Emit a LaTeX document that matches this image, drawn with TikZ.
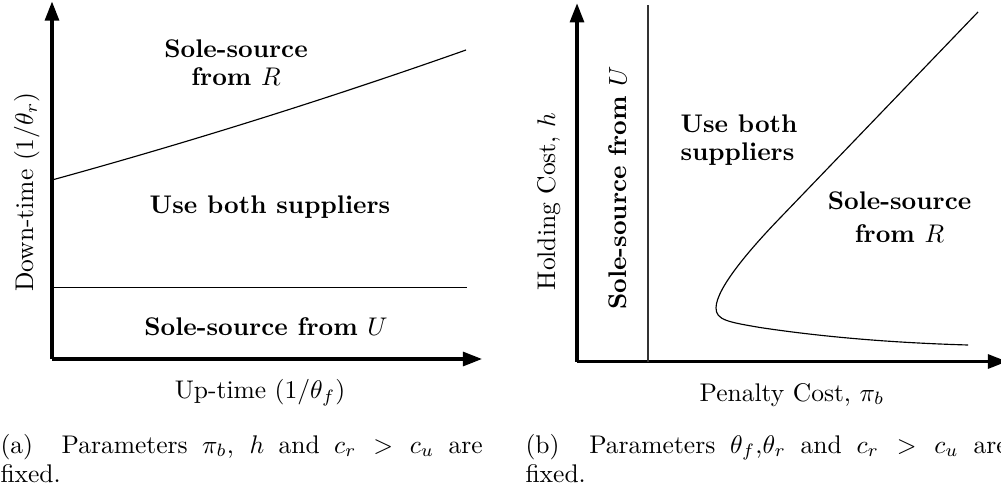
\documentclass[tikz,border=0pt]{standalone}
\usetikzlibrary{arrows.meta}

\tikzset{
  axis/.style={line width=1.2pt, -{Triangle[length=7.5pt,width=5.5pt]}},
  boundary/.style={line width=0.45pt},
  region/.style={inner sep=0pt, font=\bfseries},
  axislabel/.style={inner sep=0pt},
  captiontext/.style={inner sep=0pt, anchor=base west}
}

\begin{document}
\begin{tikzpicture}[x=0.392pt, y=-0.392pt]
  \useasboundingbox (0,0) rectangle (1001,487);

  % ---------- (a) down-time versus up-time ----------
  \coordinate (oA) at (52,359);
  \coordinate (yA) at (52,1.5);
  \coordinate (xA) at (482,359);
  \draw[axis] (oA) -- (yA);
  \draw[axis] (oA) -- (xA);

  \coordinate (rA0) at (52,180);
  \coordinate (rA1) at (466,50);
  \coordinate (uA0) at (52,287.5);
  \coordinate (uA1) at (467,287.5);
  \draw[boundary] (rA0) .. controls (190,142) and (328,98.7) .. (rA1);
  \draw[boundary] (uA0) -- (uA1);

  \node[region, align=center, anchor=north,
        font=\fontsize{10}{11.1}\selectfont\bfseries] (aR) at (236,39)
        {Sole-source\\from $R$};
  \node[region, anchor=base] (aBoth) at (270,213) {Use both suppliers};
  \node[region, anchor=base] (aU) at (266,335) {Sole-source from $U$};

  \node[axislabel, rotate=90, anchor=base] (aY) at (33,192)
        {Down-time $(1/\theta_r)$};
  \node[axislabel, anchor=base] (aX) at (260,398.3)
        {Up-time $(1/\theta_f)$};

  \node[captiontext] (capA) at (0,453)
    {\parbox[t]{189pt}{\fontsize{10}{11.4}\selectfont
      (a)~~Parameters $\pi_b$, $h$ and $c_r > c_u$ are\linebreak fixed.}};

  % ---------- (b) holding cost versus penalty cost ----------
  \coordinate (oB) at (577,361.5);
  \coordinate (yB) at (577,3.3);
  \coordinate (xB) at (1007,361.5);
  \draw[axis] (oB) -- (yB);
  \draw[axis] (oB) -- (xB);

  \coordinate (vB0) at (648,5);
  \coordinate (vB1) at (648,361.5);
  \draw[boundary, black!80] (vB0) -- (vB1);

  \coordinate (cB0) at (978,12);
  \coordinate (cB1) at (780,218);
  \coordinate (cNose) at (716,308);
  \coordinate (cB2) at (760,327.5);
  \coordinate (cB3) at (968,345);
  \draw[boundary] (cB0) -- (cB1)
    .. controls (752,247) and (716,288) .. (cNose)
    .. controls (716,320) and (728,322) .. (cB2)
    .. controls (830,338) and (900,343) .. (cB3);

  \node[region, rotate=90, anchor=base] (bU) at (626.5,188)
        {Sole-source from $U$};
  \node[region, align=left, anchor=north west,
        font=\fontsize{10}{11}\selectfont\bfseries] (bBoth) at (680,114.3)
        {Use both\\suppliers};
  \node[region, align=center, anchor=north,
        font=\fontsize{10}{12.9}\selectfont\bfseries] (bR) at (899.5,191.6)
        {Sole-source\\from $R$};

  \node[axislabel, rotate=90, anchor=base] (bY) at (555,201.5)
        {Holding Cost, $h$};
  \node[axislabel, anchor=base] (bX) at (792,401)
        {Penalty Cost, $\pi_b$};

  \node[captiontext] (capB) at (525,453)
    {\parbox[t]{189pt}{\fontsize{10}{11.4}\selectfont
      (b)~~Parameters $\theta_f$,$\theta_r$ and $c_r > c_u$ are\linebreak fixed.}};
\end{tikzpicture}
\end{document}
